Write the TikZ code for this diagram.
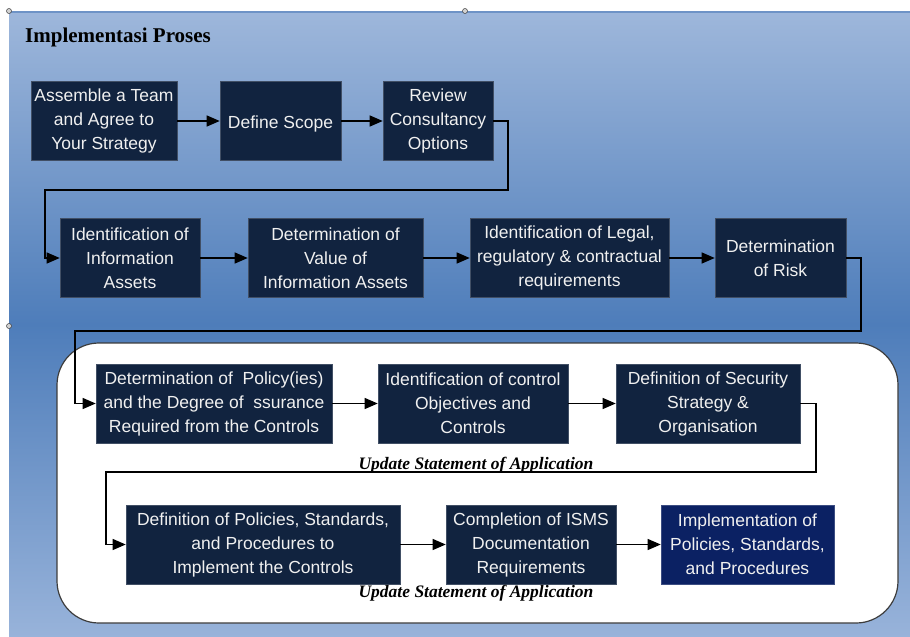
\documentclass[tikz,border=0pt]{standalone}
\usepackage{fontspec}
\setmainfont{Liberation Serif}
\setsansfont{Liberation Sans}
\usetikzlibrary{arrows.meta}

\definecolor{bgtop}{HTML}{9EB7DB}
\definecolor{bgmid}{HTML}{4E7DBA}
\definecolor{bgbot}{HTML}{98B3DA}
\definecolor{bgline}{HTML}{6E93C6}
\definecolor{boxnavy}{HTML}{11233F}
\definecolor{implnavy}{HTML}{0B2163}
\definecolor{panelgray}{HTML}{3C3C3C}

\tikzset{
    stepbox/.style={fill=boxnavy, draw=boxnavy!80!white, line width=0.6,
        text=white!94!black, align=center, inner sep=0pt, minimum height=79,
        font=\sffamily\fontsize{17.5}{24}\selectfont,
        execute at begin node={\rule{0pt}{18.5pt}}},
    flow/.style={line width=1.2, -{Triangle[length=13pt,width=11pt]}},
    soa/.style={font=\bfseries\itshape\fontsize{17.5}{20}\selectfont, anchor=base}
}

\begin{document}
\begin{tikzpicture}[x=1pt, y=-1pt]
    \useasboundingbox (0,0) rectangle (910,637);
    \shade[top color=bgtop, bottom color=bgbot, middle color=bgmid] (9,11) rectangle (910,637);
    \draw[bgline, line width=1.5] (9,12) -- (910,12);
    \foreach \p in {(9,11), (465,11), (9,326)}
        \filldraw[fill=gray!35, draw=gray!50!black, line width=0.5] \p circle (2.5);

    \node[anchor=base west, inner sep=0pt, font=\bfseries\fontsize{21}{24}\selectfont] (title) at (25,42) {Implementasi Proses};

    \draw[panelgray, fill=white, line width=1.2, rounded corners=42] (57,343) rectangle (898,623);

    % first row
    \node[stepbox, minimum width=146] (team) at (104,121) {Assemble a Team\\and Agree to\\Your Strategy};
    \node[stepbox, minimum width=121] (scope) at (280.5,121) {Define Scope};
    \node[stepbox, minimum width=110] (consult) at (438,121) {Review\\Consultancy\\Options};

    % second row
    \node[stepbox, minimum width=140] (assets) at (130,258) {Identification of\\Information\\Assets};
    \node[stepbox, minimum width=175] (value) at (335.5,258) {Determination of\\Value of\\Information Assets};
    \node[stepbox, minimum width=199] (legal) at (569.5,258) {Identification of Legal,\\regulatory \& contractual\\requirements};
    \node[stepbox, minimum width=131] (risk) at (780.5,258) {Determination\\of Risk};

    % third row
    \node[stepbox, minimum width=236] (policy) at (214,403.5) {Determination of\ \ Policy(ies)\\and the Degree of\ \ ssurance\\Required from the Controls};
    \node[stepbox, minimum width=190] (control) at (473,403.5) {Identification of control\\Objectives and\\Controls};
    \node[stepbox, minimum width=184] (strategy) at (708,403.5) {Definition of Security\\Strategy \&\\Organisation};
    \node[soa] (soa1) at (476,469) {Update Statement of Application};

    % fourth row
    \node[stepbox, minimum width=274] (procedures) at (263,544.5) {Definition of Policies, Standards,\\and Procedures to\\Implement the Controls};
    \node[stepbox, minimum width=170] (isms) at (531,544.5) {Completion of ISMS\\Documentation\\Requirements};
    \node[stepbox, minimum width=173, fill=implnavy, draw=implnavy!80!white] (implement) at (747.5,544.5) {Implementation of\\Policies, Standards,\\and Procedures};
    \node[soa] (soa2) at (476,597) {Update Statement of Application};

    \coordinate (c1) at (508,190);
    \coordinate (c2) at (45,190);
    \coordinate (c3) at (861,331);
    \coordinate (c4) at (75,331);
    \coordinate (c5) at (816,472);
    \coordinate (c6) at (106,472);

    \draw[flow] (team) -- (scope);
    \draw[flow] (scope) -- (consult);
    \draw[flow] (consult.east) -| (c1) -- (c2) |- (assets.west);
    \draw[flow] (assets) -- (value);
    \draw[flow] (value) -- (legal);
    \draw[flow] (legal) -- (risk);
    \draw[flow] (risk.east) -| (c3) -- (c4) |- (policy.west);
    \draw[flow] (policy) -- (control);
    \draw[flow] (control) -- (strategy);
    \draw[flow] (strategy.east) -| (c5) -- (c6) |- (procedures.west);
    \draw[flow] (procedures) -- (isms);
    \draw[flow] (isms) -- (implement);
\end{tikzpicture}
\end{document}
